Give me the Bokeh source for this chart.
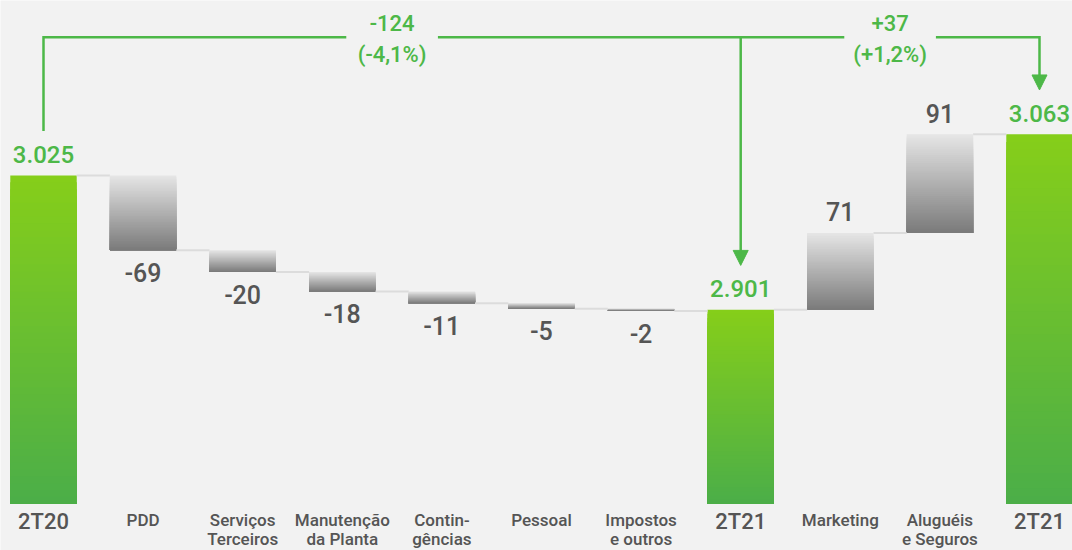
import numpy as np
from bokeh.plotting import figure
from bokeh.models import Range1d, Arrow, NormalHead
from bokeh.core.properties import value
from bokeh.embed import file_html
from bokeh.resources import INLINE

# ---------------- data ----------------
categories = ["2T20", "PDD", "Serviços\nTerceiros", "Manutenção\nda Planta",
              "Contin-\ngências", "Pessoal", "Impostos\ne outros", "2T21",
              "Marketing", "Aluguéis\ne Seguros", "2T21"]
values = [3025, -69, -20, -18, -11, -5, -2, 2901, 71, 91, 3063]
kinds = ["total", "delta", "delta", "delta", "delta", "delta", "delta",
         "total", "delta", "delta", "total"]
value_labels = ["3.025", "-69", "-20", "-18", "-11", "-5", "-2",
                "2.901", "71", "91", "3.063"]
bracket_from = [0, 7]
bracket_to = [7, 10]
bracket_delta = ["-124", "+37"]
bracket_pct = ["(-4,1%)", "(+1,2%)"]

# ---------------- style ----------------
FONT = "Roboto Medium"
BG = "#f2f2f2"
GREEN_TXT = "#4db848"
DARK = "#555555"
CONNECT = "#dcdcdc"
G_TOP, G_BOT = (0x86, 0xce, 0x1a), (0x4b, 0xae, 0x48)
S_TOP, S_BOT = (0xe6, 0xe6, 0xe6), (0x7a, 0x7a, 0x7a)
BASE = 2722          # visual baseline of the (broken) value axis
W = 0.667            # bar width in category units
CLEAR = 41           # gap between bar top and bracket end (value units)
BRACKET_Y = 3152.7
GAP = 0.46
N = 48

FW, FH = 1072, 550
PX_X = 99.6                      # pixels per category
PX_Y = 1.083                     # pixels per value unit
X0 = -43.0 / PX_X
Y1 = 3186.6


def off(px, size):
    # screen offset of the visual baseline, corrected for the renderer's baseline
    return px - 0.39 * size


p = figure(width=FW, height=FH, output_backend="svg", toolbar_location=None,
           x_range=Range1d(X0, X0 + FW / PX_X),
           y_range=Range1d(Y1 - FH / PX_Y, Y1))
p.min_border_left = p.min_border_right = p.min_border_top = p.min_border_bottom = 0
p.background_fill_color = BG
p.border_fill_color = BG
p.outline_line_color = None
p.axis.visible = False
p.grid.visible = False


def mix(a, b, t):
    return "#%02x%02x%02x" % tuple(int(round(a[k] + (b[k] - a[k]) * t)) for k in range(3))


# compute bar extents
bottoms, tops, ends = [], [], []
level = None
for v, k in zip(values, kinds):
    if k == "total":
        b, t = BASE, v
        level = v
    else:
        new = level + v
        b, t = min(level, new), max(level, new)
        level = new
    bottoms.append(b)
    tops.append(t)
    ends.append(level)

xs = list(range(len(categories)))

# gradient bars (stacked overlays from top colour to bottom colour)
L, R, T, B, C = [], [], [], [], []
for i in xs:
    top, bot = tops[i], bottoms[i]
    c0, c1 = (G_TOP, G_BOT) if kinds[i] == "total" else (S_TOP, S_BOT)
    for j in range(N):
        L.append(i - W / 2)
        R.append(i + W / 2)
        T.append(top - (top - bot) * j / N)
        B.append(bot)
        C.append(mix(c0, c1, (j + 0.5) / N))
p.quad(left=L, right=R, top=T, bottom=B, fill_color=C, line_color=None)

# connectors
p.segment(x0=[i + W / 2 for i in xs[:-1]], x1=[i + 1 - W / 2 for i in xs[:-1]],
          y0=ends[:-1], y1=ends[:-1], line_color=CONNECT, line_width=2)

# value labels
dn = [i for i in xs if values[i] < 0]
tot = [i for i in xs if kinds[i] == "total"]
up_delta = [i for i in xs if values[i] > 0 and kinds[i] != "total"]
p.text(x=tot, y=[tops[i] for i in tot], text=[value_labels[i] for i in tot],
       text_font=value(FONT), text_font_size="24px", text_font_style="bold",
       text_color=GREEN_TXT, text_align="center", text_baseline="alphabetic",
       y_offset=off(-11.5, 24))
p.text(x=up_delta, y=[tops[i] for i in up_delta], text=[value_labels[i] for i in up_delta],
       text_font=value(FONT), text_font_size="25px",
       text_color=DARK, text_align="center", text_baseline="alphabetic",
       y_offset=off(-11.5, 25))
p.text(x=dn, y=[bottoms[i] for i in dn], text=[value_labels[i] for i in dn],
       text_font=value(FONT), text_font_size="25px",
       text_color=DARK, text_align="center", text_baseline="alphabetic",
       y_offset=off(32, 25))

# category labels
line1 = [c.split("\n")[0] for c in categories]
line2 = [c.split("\n")[1] if "\n" in c else "" for c in categories]
small = [i for i in xs if kinds[i] != "total"]
p.text(x=tot, y=[BASE] * len(tot), text=[line1[i] for i in tot],
       text_font=value(FONT), text_font_size="22px",
       text_color=DARK, text_align="center", text_baseline="alphabetic",
       y_offset=off(26.5, 22))
p.text(x=small, y=[BASE] * len(small), text=[line1[i] for i in small],
       text_font=value(FONT), text_font_size="17px",
       text_color=DARK, text_align="center", text_baseline="alphabetic",
       y_offset=off(22.5, 17))
two = [i for i in small if line2[i]]
p.text(x=two, y=[BASE] * len(two), text=[line2[i] for i in two],
       text_font=value(FONT), text_font_size="17px",
       text_color=DARK, text_align="center", text_baseline="alphabetic",
       y_offset=off(42, 17))

# brackets
mids = [(a + b) / 2 for a, b in zip(bracket_from, bracket_to)]
p.line(x=[bracket_from[0], bracket_from[0], mids[0] - GAP],
       y=[tops[bracket_from[0]] + CLEAR, BRACKET_Y, BRACKET_Y],
       line_color=GREEN_TXT, line_width=2.5, line_join="miter")
p.line(x=[mids[0] + GAP, mids[1] - GAP], y=[BRACKET_Y, BRACKET_Y],
       line_color=GREEN_TXT, line_width=2.5)
p.line(x=[mids[1] + GAP, bracket_to[1], bracket_to[1]],
       y=[BRACKET_Y, BRACKET_Y, tops[bracket_to[1]] + CLEAR + 3],
       line_color=GREEN_TXT, line_width=2.5, line_join="miter")
p.line(x=[bracket_to[0], bracket_to[0]],
       y=[BRACKET_Y, tops[bracket_to[0]] + CLEAR + 3],
       line_color=GREEN_TXT, line_width=2.5)
for k in bracket_to:
    p.add_layout(Arrow(end=NormalHead(size=15, fill_color=GREEN_TXT, line_color=GREEN_TXT, line_width=1),
                       x_start=k, y_start=tops[k] + CLEAR + 10, x_end=k, y_end=tops[k] + CLEAR,
                       line_alpha=0))

p.text(x=mids, y=[BRACKET_Y] * 2, text=bracket_delta,
       text_font=value(FONT), text_font_size="22px",
       text_color=GREEN_TXT, text_align="center", text_baseline="alphabetic",
       y_offset=off(-6, 22))
p.text(x=mids, y=[BRACKET_Y] * 2, text=bracket_pct,
       text_font=value(FONT), text_font_size="22px",
       text_color=GREEN_TXT, text_align="center", text_baseline="alphabetic",
       y_offset=off(25.5, 22))

html = file_html(p, INLINE)
html = html.replace("<body>", '<body style="background-color:#f2f2f2;">', 1)
open("out.html", "w").write(html)
